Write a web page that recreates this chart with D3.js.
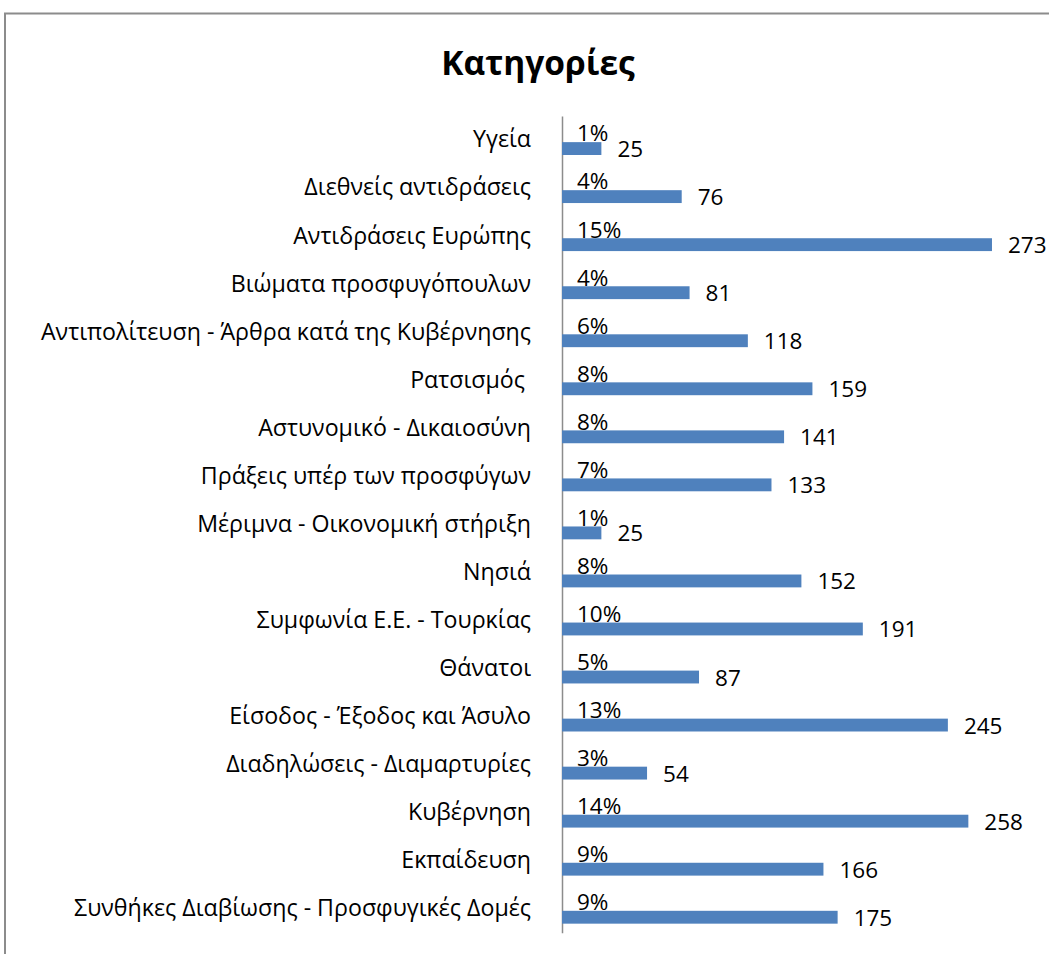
<!DOCTYPE html>
<html>
<head>
<meta charset="utf-8">
<script src="https://cdn.jsdelivr.net/npm/d3@7"></script>
<style>
  html, body { margin: 0; padding: 0; background: #fff; }
  svg text { font-family: "Open Sans", "Noto Sans", sans-serif; white-space: pre; }
</style>
</head>
<body>
<svg id="chart" width="1049" height="954"></svg>
<script>
const categories = [
  "Υγεία",
  "Διεθνείς αντιδράσεις",
  "Αντιδράσεις Ευρώπης",
  "Βιώματα προσφυγόπουλων",
  "Αντιπολίτευση - Άρθρα κατά της Κυβέρνησης",
  "Ρατσισμός ",
  "Αστυνομικό - Δικαιοσύνη",
  "Πράξεις υπέρ των προσφύγων",
  "Μέριμνα - Οικονομική στήριξη",
  "Νησιά",
  "Συμφωνία Ε.Ε. - Τουρκίας",
  "Θάνατοι",
  "Είσοδος - Έξοδος και Άσυλο",
  "Διαδηλώσεις - Διαμαρτυρίες",
  "Κυβέρνηση",
  "Εκπαίδευση",
  "Συνθήκες Διαβίωσης - Προσφυγικές Δομές"
];
const counts = [25, 76, 273, 81, 118, 159, 141, 133, 25, 152, 191, 87, 245, 54, 258, 166, 175];
const percents = ["1%", "4%", "15%", "4%", "6%", "8%", "8%", "7%", "1%", "8%", "10%", "5%", "13%", "3%", "14%", "9%", "9%"];
const title = "Κατηγορίες";

const svg = d3.select("#chart");
const W = 1049, H = 954;
const catFont = 23.2;
const labelFont = 22.5;

// frame
svg.append("path")
  .attr("d", `M5,${H} L5,13.5 L${W},13.5`)
  .attr("fill", "none")
  .attr("stroke", "#8c8c8c")
  .attr("stroke-width", 2);

// title
svg.append("text")
  .attr("x", 538).attr("y", 75)
  .attr("text-anchor", "middle")
  .attr("font-size", 33.5)
  .attr("font-weight", "bold")
  .attr("fill", "#000")
  .text(title);

const x = d3.scaleLinear().domain([0, 300]).range([562, 1034.5]);
const y = d3.scaleBand().domain(categories).range([116, 932.7]).paddingInner(0).paddingOuter(0);
const sub = d3.scaleBand().domain(["pct", "count"]).range([9, 39]).paddingInner(0.25);

const data = categories.map((c, i) => ({ cat: c, count: counts[i], pct: percents[i] }));

// category axis
const yAxis = d3.axisLeft(y).tickSize(0).tickPadding(31);
const gAxis = svg.append("g").attr("transform", `translate(${x(0)},0)`).call(yAxis);
gAxis.select(".domain").attr("stroke", "#8c8c8c").attr("stroke-width", 1.5);
gAxis.selectAll("text")
  .attr("font-size", catFont)
  .attr("font-family", "'Open Sans', 'Noto Sans', sans-serif")
  .attr("fill", "#000")
  .attr("dy", "0.32em");

// bars
svg.append("g").selectAll("rect").data(data).join("rect")
  .attr("x", x(0))
  .attr("y", d => y(d.cat) + sub("count"))
  .attr("width", d => x(d.count) - x(0))
  .attr("height", sub.bandwidth())
  .attr("fill", "#4f81bd");

// value labels
svg.append("g").selectAll("text").data(data).join("text")
  .attr("x", d => x(d.count) + 16)
  .attr("y", d => y(d.cat) + sub("count") + sub.bandwidth() / 2 + 8.5)
  .attr("font-size", labelFont)
  .attr("fill", "#000")
  .text(d => d.count);

// percent labels
svg.append("g").selectAll("text").data(data).join("text")
  .attr("x", x(0) + 15)
  .attr("y", d => y(d.cat) + sub("pct") + sub.bandwidth() / 2 + 10)
  .attr("font-size", labelFont)
  .attr("fill", "#000")
  .text(d => d.pct);
</script>
</body>
</html>
